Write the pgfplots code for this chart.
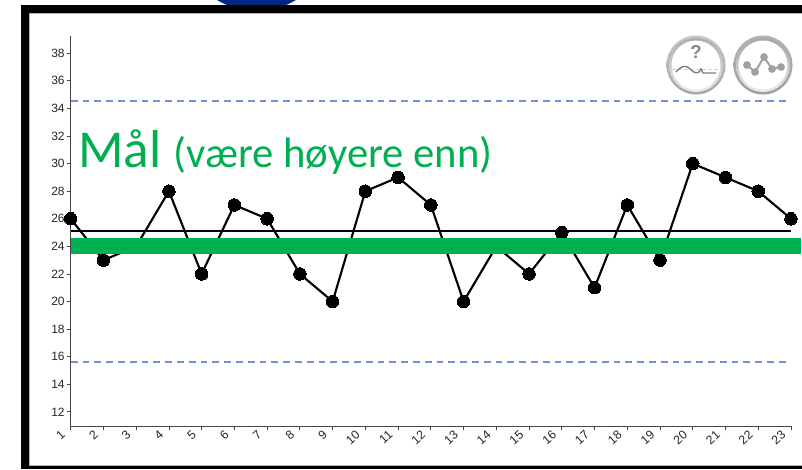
\documentclass[border=0pt]{standalone}
\usepackage{pgfplots}
\pgfplotsset{compat=1.18}
\usepackage{fontspec}
\setmainfont{Liberation Sans}
\newfontfamily\calibri{Carlito}
\definecolor{goalgreen}{RGB}{0,176,80}
\definecolor{limitblue}{RGB}{111,148,208}
\definecolor{axisgray}{RGB}{70,70,70}
\definecolor{ringgray}{RGB}{176,176,176}
\definecolor{icongray}{RGB}{160,160,160}
\definecolor{capblue}{RGB}{0,40,130}
\pgfplotstableread{
x y
1 26
2 23
3 24
4 28
5 22
6 27
7 26
8 22
9 20
10 28
11 29
12 27
13 20
14 24
15 22
16 25
17 21
18 27
19 23
20 30
21 29
22 28
23 26
}\series
\pgfplotsset{common/.style={
  at={(53.025pt,-319.725pt)}, anchor=origin,
  scale only axis, width=540.2pt, height=292.7pt,
  xmin=1, xmax=23, ymin=10.95, ymax=39.25,
  clip=false}}
\begin{document}
\begin{tikzpicture}
\path[use as bounding box] (0pt,0pt) rectangle (601.5pt,-351.75pt);
\begin{scope}[x=0.75pt,y=-0.75pt]
\fill[white] (0,0) rectangle (802,469);
\begin{scope}
\clip (0,0) rectangle (802,469);
\fill[capblue] (256.5,-65) circle (76);
\end{scope}
\fill[black] (21,5) rectangle (802,469);
\fill[white] (29,13) rectangle (802,466);
\draw[gray!60,line width=0.5pt] (29,13) -- (802,13);
\draw[gray!60,line width=0.5pt] (29,13) -- (29,465.5) -- (802,465.5);
\end{scope}
\begin{axis}[
  common,
  axis x line*=bottom, axis y line*=left,
  axis line style={draw=axisgray,line width=0.8pt,-},
  xtick={1,...,23}, ytick={12,14,...,38},
  tick style={draw=axisgray,line width=0.6pt},
  tick align=outside, major tick length=3pt,
  /pgf/number format/assume math mode=true,
  ticklabel style={font=\fontsize{9}{11}\selectfont,text=black!85},
  xticklabel style={xshift=-7.5pt,yshift=5.5pt,rotate=42,anchor=north east,font=\fontsize{9.2}{11}\selectfont},
  yticklabel style={xshift=2pt},
]
\addplot[black,line width=1.3pt,forget plot] coordinates {(1,25.09) (23,25.09)};
\addplot[limitblue,line width=1.4pt,dash pattern=on 5.2pt off 3.65pt,forget plot] coordinates {(1,34.52) (22.85,34.52)};
\addplot[limitblue,line width=1.4pt,dash pattern=on 5.2pt off 3.65pt,forget plot] coordinates {(1,15.63) (22.85,15.63)};
\addplot[black,line width=1.6pt,mark=*,mark size=4.7pt,mark options={fill=black,draw=black,line width=0pt},forget plot] table[x=x,y=y] {\series};
\end{axis}
\begin{axis}[common, hide axis]
\addplot[goalgreen,line width=11.8pt,forget plot] coordinates {(1,24.03) (23.31,24.03)};
\end{axis}
\begin{scope}[x=0.75pt,y=-0.75pt]
\node[anchor=base west,inner sep=0pt,text=goalgreen] at (78,167.5) {\calibri\fontsize{40}{42}\selectfont Mål\ \fontsize{32}{34}\selectfont(være høyere enn)};
% left icon
\shade[top color=gray!45,bottom color=gray!70] (696,65) circle (29.5);
\shade[top color=gray!65,bottom color=gray!15] (696,65) circle (27);
\fill[white] (696,65) circle (24.5);
\draw[gray!35,line width=0.8pt,dash pattern=on 3pt off 1.5pt] (672,69.5) -- (720,69.5);
\draw[icongray!80!black,line width=1.1pt] (676,72) .. controls (681,66) and (685,65) .. (689,68) .. controls (693,72) and (696,74) .. (699,72) -- (701,69) -- (703,73) -- (716,73);
\node[text=icongray!85!black,inner sep=0pt] at (696,52) {\fontsize{14}{14}\selectfont\bfseries ?};
% right icon
\shade[top color=gray!60,bottom color=gray!75] (763,65) circle (29.5);
\shade[top color=gray!70,bottom color=gray!15] (763,65) circle (27);
\fill[white] (763,65) circle (24.5);
\draw[icongray,line width=1.5pt] (747,65) -- (755,72) -- (764,57) -- (772,69) -- (781,67);
\foreach \p in {(747,65),(755,72),(764,57),(772,69),(781,67)} \fill[icongray] \p circle (3.9);
\end{scope}
\end{tikzpicture}
\end{document}
